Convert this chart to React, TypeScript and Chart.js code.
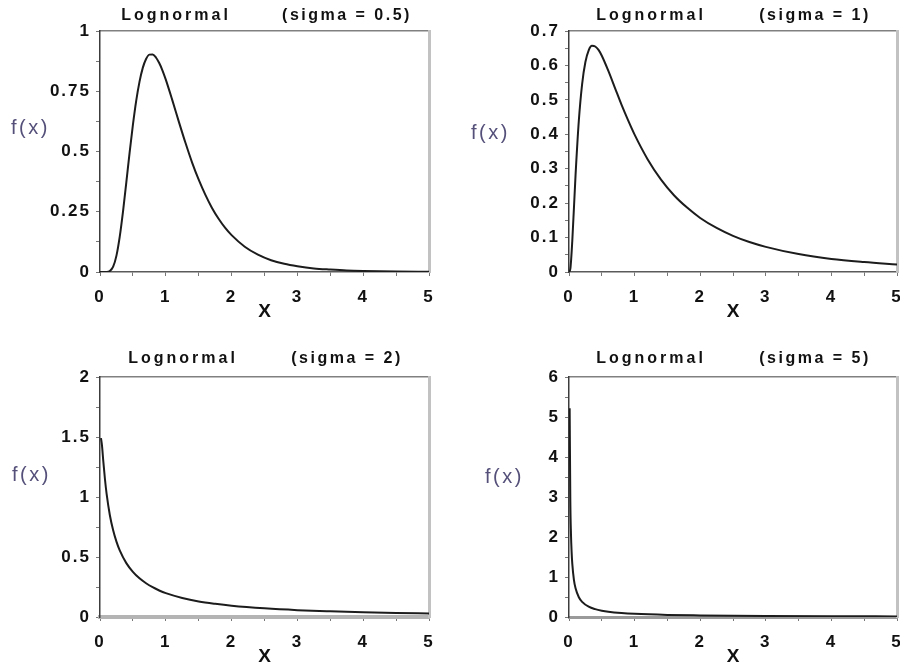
import React, { useEffect, useRef } from "react";
import { Chart, registerables } from "chart.js";

Chart.register(...registerables);

// ---------- data ----------
const xs1 = [0, 0.1, 0.15, 0.2, 0.25, 0.3, 0.35, 0.4, 0.45, 0.5, 0.55, 0.6, 0.65, 0.7, 0.75, 0.8, 0.85, 0.9, 0.95, 1.0, 1.1, 1.2, 1.3, 1.4, 1.5, 1.6, 1.7, 1.8, 1.9, 2.0, 2.2, 2.4, 2.6, 2.8, 3.0, 3.25, 3.5, 3.75, 4.0, 4.5, 5.0];
const ys1 = [0, 0.0002, 0.004, 0.022, 0.068, 0.147, 0.252, 0.372, 0.495, 0.61, 0.71, 0.789, 0.847, 0.884, 0.902, 0.903, 0.89, 0.867, 0.836, 0.798, 0.712, 0.622, 0.535, 0.454, 0.383, 0.321, 0.267, 0.222, 0.184, 0.153, 0.105, 0.072, 0.049, 0.034, 0.024, 0.015, 0.01, 0.006, 0.004, 0.002, 0.001];

const xs2 = [0, 0.02, 0.05, 0.1, 0.15, 0.2, 0.25, 0.3, 0.35, 0.4, 0.45, 0.5, 0.6, 0.7, 0.8, 0.9, 1.0, 1.2, 1.4, 1.6, 1.8, 2.0, 2.25, 2.5, 2.75, 3.0, 3.5, 4.0, 4.5, 5.0];
const ys2 = [0, 0.009, 0.09, 0.282, 0.44, 0.546, 0.61, 0.644, 0.657, 0.655, 0.645, 0.628, 0.584, 0.535, 0.486, 0.441, 0.399, 0.327, 0.269, 0.223, 0.187, 0.157, 0.128, 0.105, 0.087, 0.073, 0.052, 0.038, 0.029, 0.022];

const xs3 = [0.015, 0.03, 0.05, 0.075, 0.1, 0.15, 0.2, 0.25, 0.3, 0.4, 0.5, 0.6, 0.7, 0.8, 0.9, 1.0, 1.25, 1.5, 1.75, 2.0, 2.5, 3.0, 3.5, 4.0, 4.5, 5.0];
const ys3 = [1.49, 1.43, 1.299, 1.15, 1.028, 0.848, 0.722, 0.628, 0.555, 0.449, 0.376, 0.322, 0.281, 0.248, 0.221, 0.199, 0.159, 0.13, 0.11, 0.094, 0.072, 0.057, 0.047, 0.039, 0.033, 0.029];

const xs4 = [0.01, 0.02, 0.03, 0.04, 0.05, 0.075, 0.1, 0.15, 0.2, 0.3, 0.4, 0.5, 0.6, 0.8, 1.0, 1.5, 2.0, 2.5, 3.0, 4.0, 5.0];
const ys4 = [5.221, 2.938, 2.08, 1.622, 1.334, 0.93, 0.718, 0.495, 0.379, 0.258, 0.196, 0.158, 0.132, 0.1, 0.08, 0.053, 0.04, 0.031, 0.026, 0.019, 0.015];

const xTickLabels = [0, 1, 2, 3, 4, 5];
const yTicks1 = [0, 0.25, 0.5, 0.75, 1];
const yTicks2 = [0, 0.1, 0.2, 0.3, 0.4, 0.5, 0.6, 0.7];
const yTicks3 = [0, 0.5, 1, 1.5, 2];
const yTicks4 = [0, 1, 2, 3, 4, 5, 6];
const sigmas = ["0.5", "1", "2", "5"];
const titleName = "Lognormal";
const yLabel = "f(x)";
const xLabel = "X";

// ---------- layout ----------
const FONT = '"Liberation Sans", Arial, Helvetica, sans-serif';

type Box = {
  left: number; top: number; w: number; h: number;
  L: number; T: number; R: number; B: number;
  titleY: number; t1: number; t2: number;
  fx: number; fy: number; xy: number;
  bottomColor: string; bottomWidth: number;
};

const boxes: Box[] = [
  { left: 0, top: 0, w: 470, h: 330, L: 100, T: 31, R: 429, B: 272, titleY: 16, t1: 76, t2: 247, fx: 11, fy: 128, xy: 312, bottomColor: "#5a5a5a", bottomWidth: 1.5 },
  { left: 450, top: 0, w: 470, h: 330, L: 119, T: 31, R: 447, B: 272, titleY: 16, t1: 82, t2: 246, fx: 21, fy: 133, xy: 312, bottomColor: "#5a5a5a", bottomWidth: 1.5 },
  { left: 0, top: 330, w: 470, h: 341, L: 100, T: 47, R: 429, B: 287, titleY: 29, t1: 83, t2: 247, fx: 12, fy: 145, xy: 327, bottomColor: "#b4b4b4", bottomWidth: 4 },
  { left: 450, top: 330, w: 470, h: 341, L: 119, T: 47, R: 447, B: 287, titleY: 29, t1: 82, t2: 246, fx: 35, fy: 147, xy: 327, bottomColor: "#9a9a9a", bottomWidth: 3 },
];

type PanelProps = {
  xs: number[]; ys: number[]; yMax: number; yStep: number; yTicks: number[]; sigma: string; box: Box;
};

const near = (v: number, arr: number[]) => arr.some((t) => Math.abs(t - v) < 1e-6);
const fmt = (v: number) => String(parseFloat(v.toFixed(4)));

function Panel({ xs, ys, yMax, yStep, yTicks, sigma, box }: PanelProps) {
  const ref = useRef<HTMLCanvasElement>(null);

  useEffect(() => {
    const canvas = ref.current;
    if (!canvas) return;
    const WY = 70;
    const HX = 50;
    const setLS = (c: any) => {
      c.ctx.letterSpacing = "2px";
    };
    const textPlugin = {
      id: "panelText",
      afterInit: setLS,
      beforeUpdate: setLS,
      beforeDraw: setLS,
      afterDraw(c: any) {
        const ctx = c.ctx as CanvasRenderingContext2D;
        const a = c.chartArea;
        ctx.save();
        ctx.fillStyle = "#111";
        ctx.textBaseline = "middle";
        ctx.textAlign = "center";
        ctx.font = `bold 16px ${FONT}`;
        (ctx as any).letterSpacing = "3px";
        ctx.fillText(titleName, a.left + box.t1, box.titleY);
        (ctx as any).letterSpacing = "2.5px";
        ctx.fillText(`(sigma = ${sigma})`, a.left + box.t2, box.titleY);
        ctx.textAlign = "left";
        ctx.font = `20px ${FONT}`;
        (ctx as any).letterSpacing = "2.5px";
        ctx.fillStyle = "#54507a";
        ctx.fillText(yLabel, box.fx, box.fy);
        ctx.textAlign = "center";
        ctx.font = `bold 19px ${FONT}`;
        (ctx as any).letterSpacing = "0px";
        ctx.fillStyle = "#111";
        ctx.fillText(xLabel, (a.left + a.right) / 2, box.xy);
        ctx.restore();
      },
    };

    const tickFont = { family: FONT, size: 17, weight: "bold" as const };

    const chart = new Chart(canvas, {
      type: "line",
      data: {
        datasets: [
          {
            data: xs.map((x, i) => ({ x, y: ys[i] })),
            borderColor: "#1c1c1c",
            borderWidth: 2,
            pointRadius: 0,
            fill: false,
            cubicInterpolationMode: "monotone",
          },
        ],
      },
      options: {
        responsive: false,
        animation: false,
        events: [],
        layout: {
          padding: { left: box.L - WY, top: box.T, right: box.w - box.R, bottom: box.h - box.B - HX },
        },
        plugins: {
          legend: { display: false },
          tooltip: { enabled: false },
          title: { display: false },
        },
        scales: {
          x: {
            type: "linear",
            position: "bottom",
            min: 0,
            max: 5,
            afterFit: (s: any) => {
              s.height = HX;
            },
            grid: { drawOnChartArea: false, drawTicks: true, tickLength: 4, color: "#777", lineWidth: 1 },
            border: { display: true, color: box.bottomColor, width: box.bottomWidth },
            ticks: {
              stepSize: 0.5,
              autoSkip: false,
              maxRotation: 0,
              minRotation: 0,
              padding: 11,
              color: "#111",
              font: tickFont,
              callback: (v: any) => (near(Number(v), xTickLabels) ? fmt(Number(v)) : ""),
            },
          },
          xTop: {
            type: "linear",
            position: "top",
            min: 0,
            max: 5,
            afterFit: (s: any) => {
              s.height = 0;
            },
            grid: { display: false, drawOnChartArea: false, drawTicks: false },
            border: { display: true, color: "#808080", width: 1.5 },
            ticks: { display: false },
          },
          y: {
            type: "linear",
            position: "left",
            min: 0,
            max: yMax,
            afterFit: (s: any) => {
              s.width = WY;
            },
            grid: { drawOnChartArea: false, drawTicks: true, tickLength: 4, color: "#777", lineWidth: 1 },
            border: { display: true, color: "#3c3c3c", width: 1.5 },
            ticks: {
              stepSize: yStep,
              autoSkip: false,
              padding: 5,
              color: "#111",
              font: tickFont,
              callback: (v: any) => (near(Number(v), yTicks) ? fmt(Number(v)) : ""),
            },
          },
          yRight: {
            type: "linear",
            position: "right",
            min: 0,
            max: yMax,
            afterFit: (s: any) => {
              s.width = 0;
            },
            grid: { display: false, drawOnChartArea: false, drawTicks: false },
            border: { display: true, color: "#c2c2c2", width: 3 },
            ticks: { display: false },
          },
        },
      } as any,
      plugins: [textPlugin],
    });

    return () => {
      chart.destroy();
    };
  }, [xs, ys, yMax, yStep, yTicks, sigma, box]);

  return (
    <canvas
      ref={ref}
      width={box.w}
      height={box.h}
      style={{ position: "absolute", left: box.left, top: box.top, width: box.w, height: box.h }}
    />
  );
}

export default function App() {
  return (
    <div
      style={{
        position: "absolute",
        left: 0,
        top: 0,
        width: 900,
        height: 671,
        overflow: "hidden",
        background: "#ffffff",
      }}
    >
      <Panel xs={xs1} ys={ys1} yMax={1} yStep={0.125} yTicks={yTicks1} sigma={sigmas[0]} box={boxes[0]} />
      <Panel xs={xs2} ys={ys2} yMax={0.7} yStep={0.05} yTicks={yTicks2} sigma={sigmas[1]} box={boxes[1]} />
      <Panel xs={xs3} ys={ys3} yMax={2} yStep={0.25} yTicks={yTicks3} sigma={sigmas[2]} box={boxes[2]} />
      <Panel xs={xs4} ys={ys4} yMax={6} yStep={0.5} yTicks={yTicks4} sigma={sigmas[3]} box={boxes[3]} />
    </div>
  );
}
